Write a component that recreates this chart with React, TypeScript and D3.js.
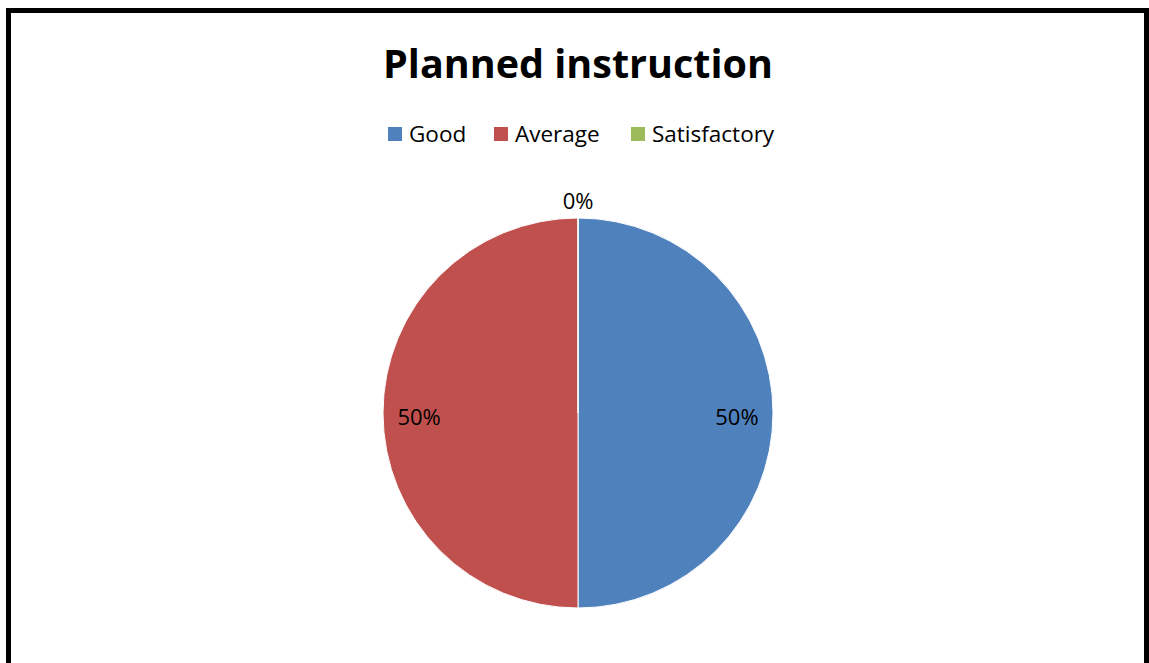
import React from "react";
import * as d3 from "d3";

const categories = ["Good", "Average", "Satisfactory"];
const values = [50, 50, 0];
const colors = ["#4F81BD", "#C0504D", "#9BBB59"];
const title = "Planned instruction";

export default function App() {
  const W = 1149, H = 663;
  const cx = 578, cy = 413, r = 195;
  const total = d3.sum(values);
  const pie = d3.pie<number>().sort(null).value((d) => d)(values);
  const arc = d3.arc<d3.PieArcDatum<number>>().innerRadius(0).outerRadius(r);
  const labelArc = d3.arc<d3.PieArcDatum<number>>().innerRadius(r * 0.815).outerRadius(r * 0.815);
  const outArc = d3.arc<d3.PieArcDatum<number>>().innerRadius(r + 21).outerRadius(r + 21);
  const font = "'Open Sans', 'Noto Sans', sans-serif";
  const legendX = [388, 494, 631];
  return (
    <svg width={W} height={H} style={{ position: "absolute", left: 0, top: 0, background: "#fff" }}>
      <rect x={0} y={0} width={W} height={H} fill="#fff" />
      <rect x={8.5} y={10.5} width={1138} height={700} fill="#fff" stroke="#000" strokeWidth={5} />
      <text x={578} y={78} textAnchor="middle" fontFamily={font} fontWeight="bold" fontSize={39.5} fill="#000">{title}</text>
      {categories.map((c, i) => (
        <g key={c}>
          <rect x={legendX[i]} y={127} width={14} height={14} fill={colors[i]} />
          <text x={legendX[i] + 21} y={142} fontFamily={font} fontSize={22.5} fill="#000">{c}</text>
        </g>
      ))}
      <g transform={`translate(${cx},${cy})`}>
        {pie.map((d, i) => (
          <path key={i} d={arc(d) || ""} fill={colors[i]} stroke="#fff" strokeWidth={1} />
        ))}
        {pie.map((d, i) => {
          const [x, y] = d.value === 0 ? outArc.centroid(d) : labelArc.centroid(d);
          const pct = Math.round((d.value / total) * 100) + "%";
          return (
            <text key={"l" + i} x={x} y={y + 3} textAnchor="middle" dominantBaseline="central" fontFamily={font} fontSize={22} fill="#000">{pct}</text>
          );
        })}
      </g>
    </svg>
  );
}
